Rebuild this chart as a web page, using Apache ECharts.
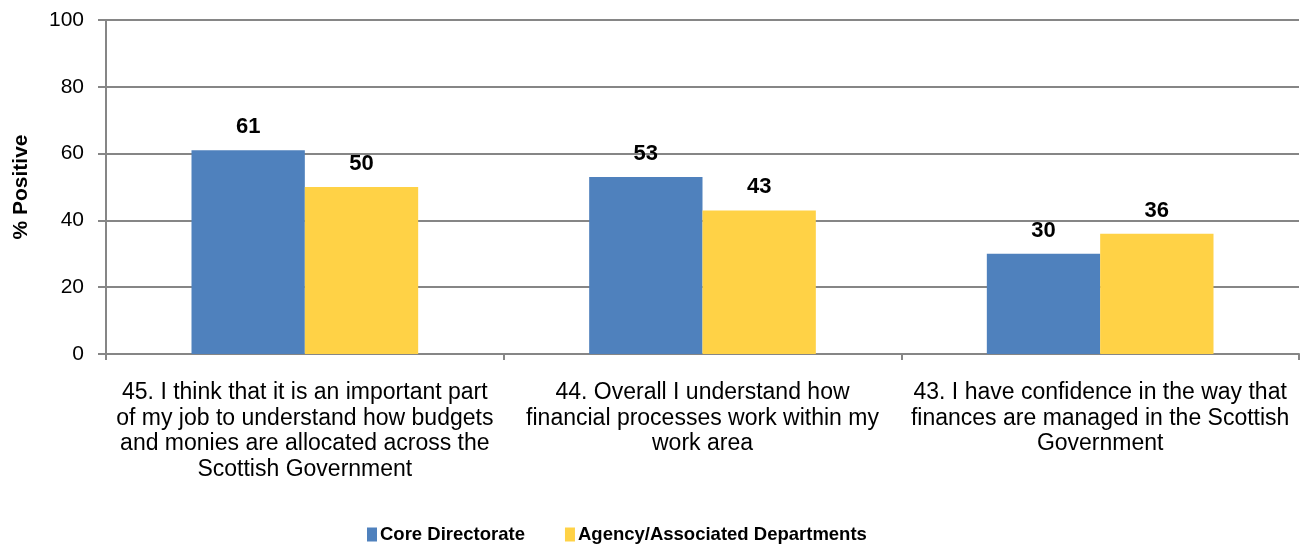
<!DOCTYPE html>
<html>
<head>
<meta charset="utf-8">
<script src="https://cdn.jsdelivr.net/npm/echarts@6/dist/echarts.min.js"></script>
<style>
html, body { margin: 0; padding: 0; background: #fff; }
#chart { width: 1307px; height: 550px; }
</style>
</head>
<body>
<div id="chart"></div>
<script>
// Survey questions (x-axis categories, wrapped into lines)
const categories = [
  "45. I think that it is an important part\nof my job to understand how budgets\nand monies are allocated across the\nScottish Government",
  "44. Overall I understand how\nfinancial processes work within my\nwork area",
  "43. I have confidence in the way that\nfinances are managed in the Scottish\nGovernment"
];
const seriesNames = ["Core Directorate", "Agency/Associated Departments"];
const coreValues = [61, 53, 30];
const agencyValues = [50, 43, 36];
const yTicks = [0, 20, 40, 60, 80, 100];

const font = "'Liberation Sans', Arial, sans-serif";
const axisGrey = "#868686";

const chart = echarts.init(document.getElementById("chart"));

const labelStyle = {
  show: true,
  position: "top",
  distance: 12,
  fontFamily: font,
  fontWeight: "bold",
  fontSize: 22,
  color: "#000"
};

chart.setOption({
  animation: false,
  grid: { left: 106, right: 8, top: 20, bottom: 196, containLabel: false },
  legend: {
    top: 520,
    left: 362,
    itemWidth: 10,
    itemHeight: 14,
    itemGap: 40,
    icon: "rect",
    textStyle: { fontFamily: font, fontWeight: "bold", fontSize: 18.5, color: "#000", padding: [0, 0, 0, -2] },
    data: seriesNames
  },
  xAxis: {
    type: "category",
    data: categories,
    axisLine: { show: true, lineStyle: { color: axisGrey, width: 2 } },
    axisTick: { show: true, alignWithLabel: false, length: 6, lineStyle: { color: axisGrey, width: 2 } },
    axisLabel: {
      interval: 0,
      margin: 26,
      fontFamily: font,
      fontSize: 23,
      lineHeight: 25.5,
      color: "#000",
      align: "center"
    }
  },
  yAxis: {
    type: "value",
    min: yTicks[0],
    max: yTicks[yTicks.length - 1],
    interval: yTicks[1] - yTicks[0],
    name: "% Positive",
    nameLocation: "middle",
    nameGap: 74,
    nameRotate: 90,
    nameTextStyle: { fontFamily: font, fontWeight: "bold", fontSize: 21, color: "#000" },
    axisLine: { show: true, lineStyle: { color: axisGrey, width: 2 } },
    axisTick: { show: true, length: 8, lineStyle: { color: axisGrey, width: 2 } },
    axisLabel: { margin: 22, fontFamily: font, fontSize: 21, color: "#000" },
    splitLine: { show: true, lineStyle: { color: axisGrey, width: 2 } }
  },
  series: [
    {
      name: seriesNames[0],
      type: "bar",
      data: coreValues,
      barGap: "0%",
      barCategoryGap: "43%",
      itemStyle: { color: "#4F81BD" },
      label: labelStyle
    },
    {
      name: seriesNames[1],
      type: "bar",
      data: agencyValues,
      itemStyle: { color: "#FFD246" },
      label: labelStyle
    }
  ]
});
</script>
</body>
</html>
